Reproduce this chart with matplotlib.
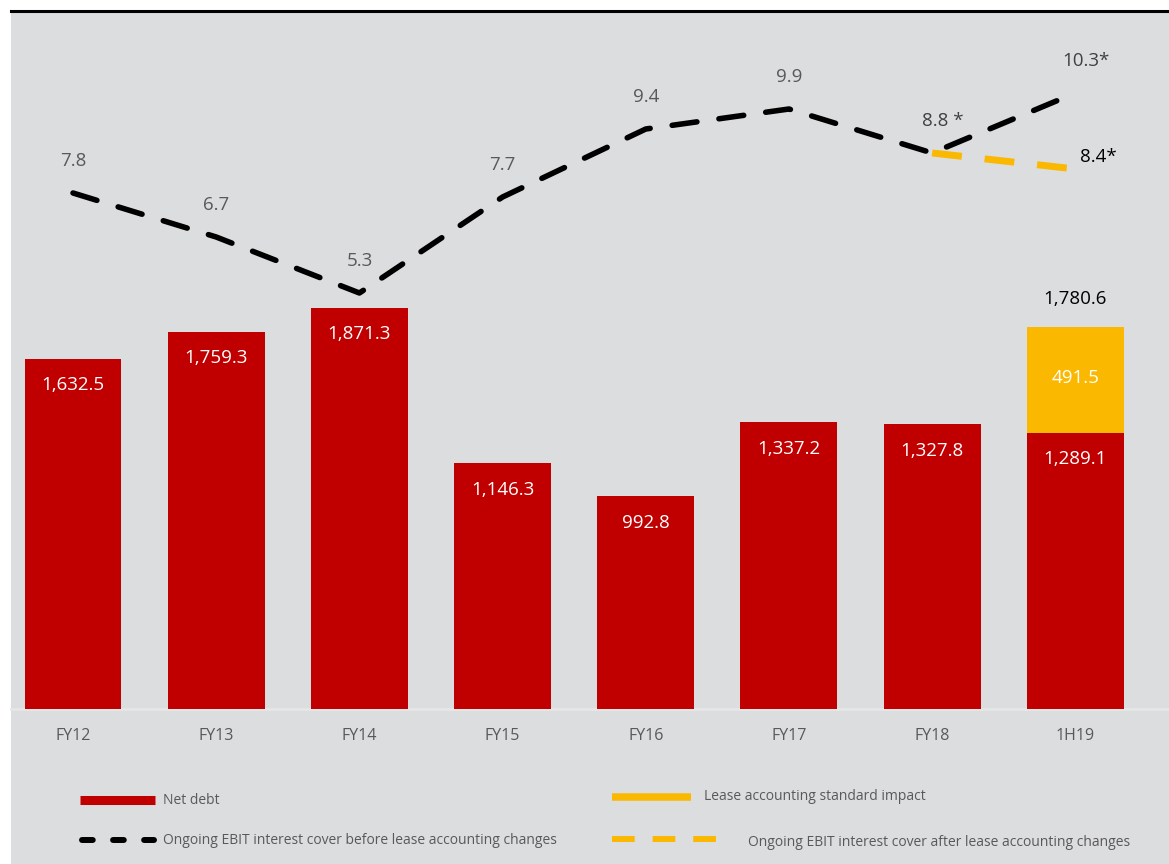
import matplotlib.pyplot as plt
from matplotlib.lines import Line2D
from matplotlib.patches import Rectangle

plt.rcParams['font.family'] = ['Open Sans', 'DejaVu Sans']

periods = ["FY12", "FY13", "FY14", "FY15", "FY16", "FY17", "FY18", "1H19"]
net_debt = [1632.5, 1759.3, 1871.3, 1146.3, 992.8, 1337.2, 1327.8, 1289.1]
lease_impact = [0, 0, 0, 0, 0, 0, 0, 491.5]
cover_before = [7.8, 6.7, 5.3, 7.7, 9.4, 9.9, 8.8, 10.3]
cover_before_lbl = ["7.8", "6.7", "5.3", "7.7", "9.4", "9.9", "8.8 *", "10.3*"]
after_x = [6, 7]
cover_after = [8.8, 8.4]

RED = "#C00000"
ORANGE = "#FBB800"
GREY_TXT = "#595959"
BG = "#DCDDDF"

W, H = 1169, 864
fig = plt.figure(figsize=(W / 100, H / 100), dpi=100)
fig.patch.set_facecolor("white")

# grey panel + black top rule
fig.add_artist(Rectangle((11 / W, 0), 1 - 11 / W, (H - 12) / H, transform=fig.transFigure,
                         facecolor=BG, edgecolor="none", zorder=0))
fig.add_artist(Line2D([11 / W, 1], [(H - 11) / H] * 2, transform=fig.transFigure,
                      color="black", lw=2.2, zorder=1))

ax_bottom = (H - 709) / H
ax_top = (H - 12) / H
ax = fig.add_axes([11 / W, ax_bottom, 1 - 11 / W, ax_top - ax_bottom])
ax.set_facecolor("none")
x = list(range(len(periods)))
ax.set_xlim(-0.433, 7.654)
ax.set_ylim(0, 3251)

ax.bar(x, net_debt, width=0.677, color=RED, zorder=2)
ax.bar(x, lease_impact, bottom=net_debt, width=0.677, color=ORANGE, zorder=2)

for i, v in enumerate(net_debt):
    ax.annotate(f"{v:,.1f}", (i, v), xytext=(0, -19), textcoords="offset points",
                ha="center", va="center", color="white", fontsize=13.5, zorder=5)
for i, v in enumerate(lease_impact):
    if v > 0:
        ax.text(i, net_debt[i] + v / 2 + 10, f"{v:,.1f}", ha="center", va="center",
                color="white", fontsize=13.5, zorder=5)
        tot = net_debt[i] + v
        ax.annotate(f"{tot:,.1f}", (i, tot), xytext=(0, 20), textcoords="offset points",
                    ha="center", va="center", color="black", fontsize=13.5, zorder=5)

for s in ax.spines.values():
    s.set_visible(False)
ax.axhline(0, color="#E6E6E6", lw=2, zorder=1, clip_on=False)
ax.set_yticks([])
ax.set_xticks(x)
ax.set_xticklabels(periods, fontsize=11.5, color=GREY_TXT)
ax.tick_params(axis="x", length=0, pad=14)

ax2 = ax.twinx()
ax2.set_ylim(-5.1, 12.325)
ax2.set_yticks([])
for s in ax2.spines.values():
    s.set_visible(False)
ax2.plot(x, cover_before, color="black", lw=4, dashes=(4.5, 4), dash_capstyle="round", zorder=4)
ax2.plot(after_x, cover_after, color=ORANGE, lw=5, dashes=(4.3, 3.3), dash_capstyle="butt", zorder=3)

for i, (v, lbl) in enumerate(zip(cover_before, cover_before_lbl)):
    dx = 8 if "*" in lbl else 0
    ax2.annotate(lbl, (i, v), xytext=(dx, 23), textcoords="offset points",
                 ha="center", va="center", color=GREY_TXT if "*" not in lbl else "#404040",
                 fontsize=13.5)
ax2.annotate("8.4*", (after_x[-1], cover_after[-1]), xytext=(3, 9), textcoords="offset points",
             ha="left", va="center", color="black", fontsize=13.5)

# legend
def fy(py):
    return (H - py) / H

fig.add_artist(Line2D([80 / W, 155 / W], [fy(800)] * 2, color=RED, lw=6.5, solid_capstyle="butt"))
fig.text(163 / W, fy(800), "Net debt", color=GREY_TXT, fontsize=10, va="center")
fig.add_artist(Line2D([82 / W, 154 / W], [fy(840)] * 2, color="black", lw=4.3,
                      dashes=(1.8, 3.4), dash_capstyle="round"))
fig.text(163 / W, fy(840), "Ongoing EBIT interest cover before lease accounting changes",
         color=GREY_TXT, fontsize=10, va="center")
fig.add_artist(Line2D([612 / W, 691 / W], [fy(797)] * 2, color=ORANGE, lw=5.4, solid_capstyle="butt"))
fig.text(704 / W, fy(797), "Lease accounting standard impact", color=GREY_TXT, fontsize=10, va="center")
fig.add_artist(Line2D([612 / W, 716 / W], [fy(839)] * 2, color=ORANGE, lw=4.3,
                      dashes=(3.8, 3.0), dash_capstyle="butt"))
fig.text(748 / W, fy(842), "Ongoing EBIT interest cover after lease accounting changes",
         color=GREY_TXT, fontsize=10, va="center")

fig.savefig("out.png", dpi=100, facecolor=fig.get_facecolor())
